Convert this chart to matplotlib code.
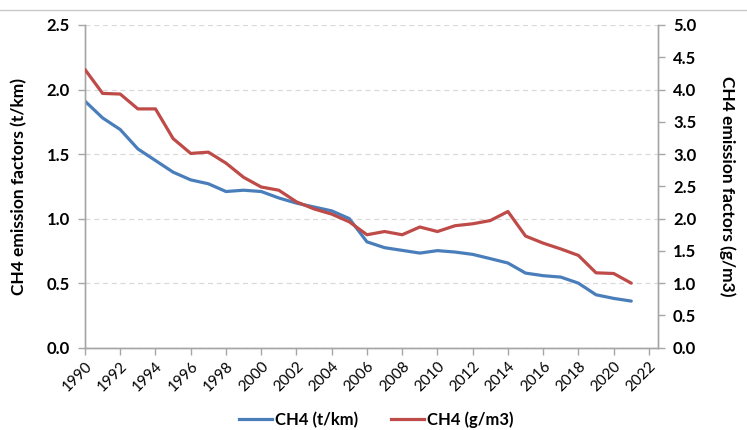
import matplotlib
matplotlib.use("Agg")
import matplotlib.pyplot as plt
from matplotlib.lines import Line2D

years = list(range(1990, 2022))
ch4_tkm = [1.91, 1.78, 1.69, 1.54, 1.45, 1.36, 1.30, 1.27, 1.21, 1.22,
           1.21, 1.16, 1.12, 1.09, 1.06, 1.00, 0.82, 0.775, 0.754, 0.733,
           0.752, 0.741, 0.723, 0.69, 0.656, 0.578, 0.558, 0.547, 0.50, 0.41,
           0.382, 0.361]
ch4_gm3 = [4.31, 3.94, 3.93, 3.70, 3.70, 3.24, 3.01, 3.03, 2.86, 2.64,
           2.49, 2.44, 2.26, 2.15, 2.07, 1.95, 1.75, 1.80, 1.75, 1.87,
           1.80, 1.89, 1.92, 1.97, 2.11, 1.73, 1.62, 1.53, 1.43, 1.16,
           1.15, 1.00]
xticks = list(range(1990, 2023, 2))
left_ticks = [0.0, 0.5, 1.0, 1.5, 2.0, 2.5]
right_ticks = [0.0, 0.5, 1.0, 1.5, 2.0, 2.5, 3.0, 3.5, 4.0, 4.5, 5.0]

plt.rcParams['font.family'] = ['Lato', 'DejaVu Sans']
blue = '#4a7ebb'
red = '#be4b48'
spine_c = '#a6a6a6'

fig = plt.figure(figsize=(7.47, 4.30), dpi=100)
W, H = 747, 430
ax = fig.add_axes([85 / W, 1 - 347.7 / H, (657.7 - 85) / W, (347.7 - 25) / H])
ax2 = ax.twinx()

ax.plot(years, ch4_tkm, color=blue, lw=2.3, solid_capstyle='round', zorder=3)
ax2.plot(years, ch4_gm3, color=red, lw=2.3, solid_capstyle='round', zorder=3)

ax.set_xlim(1990, 2022.5)
ax.set_ylim(0, 2.5)
ax2.set_ylim(0, 5.0)
ax.set_yticks(left_ticks)
ax.set_yticklabels([f"{v:.1f}" for v in left_ticks], fontweight='bold', fontsize=12)
ax2.set_yticks(right_ticks)
ax2.set_yticklabels([f"{v:.1f}" for v in right_ticks], fontweight='bold', fontsize=12)
ax.set_xticks(xticks)
ax.set_xticklabels([str(y) for y in xticks], rotation=45, ha='right',
                   rotation_mode='anchor', fontsize=11)

ax.grid(axis='y', color='#d9d9d9', ls=(0, (4, 3)), lw=0.9)
ax.set_axisbelow(True)

for a in (ax, ax2):
    a.spines['top'].set_visible(False)
    for s in ('left', 'right', 'bottom'):
        a.spines[s].set_color(spine_c)
        a.spines[s].set_linewidth(1.0)
    a.tick_params(color=spine_c, length=5, width=1.0, direction='out')
ax.tick_params(axis='y', pad=6)
ax2.tick_params(axis='y', pad=6)
ax.tick_params(axis='x', pad=3)

ax.set_ylabel("CH4 emission factors (t/km)", fontweight='bold', fontsize=12.5, labelpad=14)
ax2.set_ylabel("CH4 emission factors (g/m3)", fontweight='bold', fontsize=12.5,
               rotation=-90, labelpad=28)

# top border line
fig.add_artist(Line2D([0, 1], [1 - 9.5 / H, 1 - 9.5 / H], color='#c8c8c8', lw=1.0))

handles = [Line2D([], [], color=blue, lw=2.3), Line2D([], [], color=red, lw=2.3)]
fig.legend(handles, ["CH4 (t/km)", "CH4 (g/m3)"], loc='center',
           bbox_to_anchor=(376 / W, 1 - 420 / H), ncol=2, frameon=False,
           prop={'weight': 'bold', 'size': 12}, handlelength=2.0,
           handletextpad=0.15, columnspacing=2.0)

fig.savefig("out.png", dpi=100)
